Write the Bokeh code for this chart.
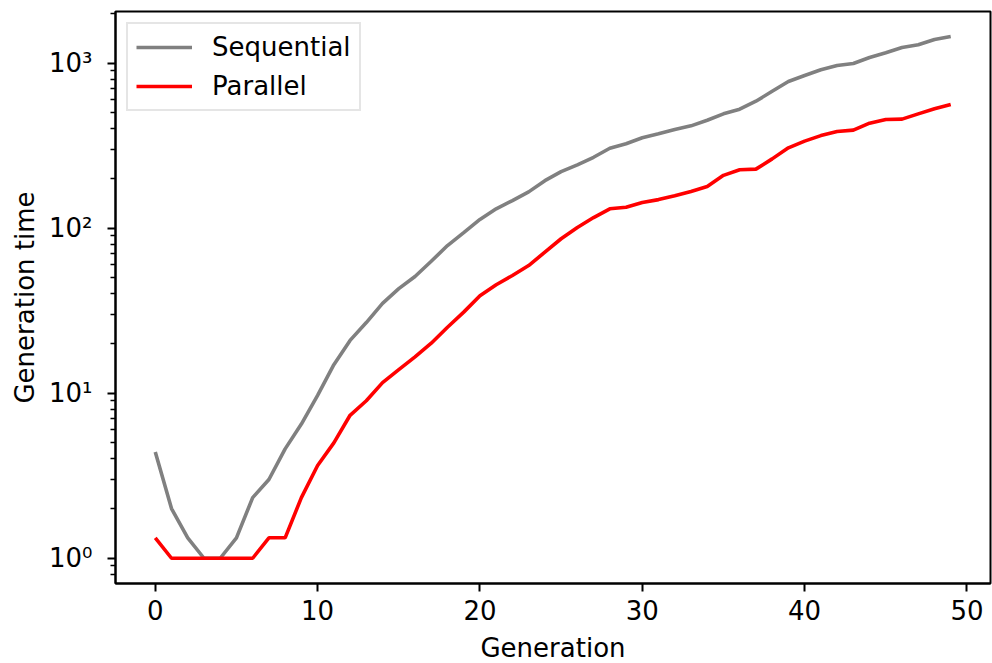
from bokeh.plotting import figure
from bokeh.models import Range1d, FixedTicker, CustomJSTickFormatter
from bokeh.embed import file_html
from bokeh.resources import INLINE

generations = [0, 1, 2, 3, 4, 5, 6, 7, 8, 9,
               10, 11, 12, 13, 14, 15, 16, 17, 18, 19,
               20, 21, 22, 23, 24, 25, 26, 27, 28, 29,
               30, 31, 32, 33, 34, 35, 36, 37, 38, 39,
               40, 41, 42, 43, 44, 45, 46, 47, 48, 49]

sequential = [4.4, 2.0, 1.33, 1.0, 1.0, 1.33, 2.33, 3.0, 4.6, 6.5,
              9.7, 14.9, 20.9, 26.8, 35, 43, 51, 63, 78.5, 94,
              113, 131, 147, 166, 194, 220, 242, 269, 305, 325,
              353, 373, 396, 417, 451, 493, 526, 588, 675, 774,
              842, 912, 968, 996, 1083, 1157, 1245, 1292, 1392, 1452]

parallel = [1.33, 1.0, 1.0, 1.0, 1.0, 1.0, 1.0, 1.33, 1.33, 2.33,
            3.65, 5.0, 7.35, 9.0, 11.6, 13.9, 16.6, 20.1, 25.1, 31,
            39, 45.4, 51.7, 59.4, 71.6, 86.3, 101, 116, 131, 134,
            143, 149, 157, 167, 179, 209, 226, 228, 263, 307,
            337, 364, 385, 393, 433, 456, 458, 493, 529, 562]

x_ticks = [0, 10, 20, 30, 40, 50]
y_major_ticks = [1, 10, 100, 1000]
y_minor_ticks = [0.7, 0.8, 0.9,
                 2, 3, 4, 5, 6, 7, 8, 9,
                 20, 30, 40, 50, 60, 70, 80, 90,
                 200, 300, 400, 500, 600, 700, 800, 900,
                 2000]

FONT = "DejaVu Sans"

p = figure(
    width=992, height=663,
    frame_width=875, frame_height=572,
    min_border_left=115, min_border_right=2, min_border_top=11, min_border_bottom=80,
    y_axis_type="log",
    x_range=Range1d(-2.45, 51.45),
    y_range=Range1d(10 ** -0.153, 10 ** 3.313),
    output_backend="svg", toolbar_location=None,
)

p.line(generations, sequential, line_color="#808080", line_width=3.6, legend_label="Sequential")
p.line(generations, parallel, line_color="#ff0000", line_width=3.6, legend_label="Parallel")

p.xgrid.visible = False
p.ygrid.visible = False
p.outline_line_color = "black"
p.outline_line_width = 2
p.background_fill_color = "white"
p.border_fill_color = "white"

p.xaxis.ticker = FixedTicker(ticks=x_ticks)
p.yaxis.ticker = FixedTicker(ticks=y_major_ticks, minor_ticks=y_minor_ticks)
p.yaxis.formatter = CustomJSTickFormatter(code="""
const sup = {"0":"\u2070","1":"\u00b9","2":"\u00b2","3":"\u00b3","4":"\u2074","-":"\u207b"};
const e = Math.round(Math.log10(tick));
return "10" + String(e).split("").map(c => sup[c]).join("");
""")

for ax in (p.xaxis[0], p.yaxis[0]):
    ax.axis_line_width = 2
    ax.axis_line_color = "black"
    ax.major_tick_line_width = 2
    ax.minor_tick_line_width = 1.5
    ax.major_tick_out = 8
    ax.major_tick_in = 0
    ax.minor_tick_out = 5
    ax.minor_tick_in = 0
    ax.major_label_text_font = FONT
    ax.major_label_text_font_size = "26px"
    ax.major_label_text_color = "black"
    ax.axis_label_text_font = FONT
    ax.axis_label_text_font_size = "26px"
    ax.axis_label_text_font_style = "normal"
    ax.axis_label_text_color = "black"

p.xaxis.axis_label = "Generation"
p.yaxis.axis_label = "Generation time"
p.xaxis.major_label_standoff = 8
p.xaxis.axis_label_standoff = 10
p.yaxis.major_label_standoff = 15
p.yaxis.axis_label_standoff = 6

lg = p.legend[0]
lg.location = "top_left"
lg.margin = 11
lg.padding = 8
lg.spacing = 9
lg.glyph_width = 56
lg.glyph_height = 30
lg.label_standoff = 20
lg.label_height = 30
lg.label_text_font = FONT
lg.label_text_font_size = "26px"
lg.label_text_color = "black"
lg.border_line_color = "#cccccc"
lg.border_line_width = 2
lg.background_fill_alpha = 0.8

open("out.html", "w").write(file_html(p, INLINE))
